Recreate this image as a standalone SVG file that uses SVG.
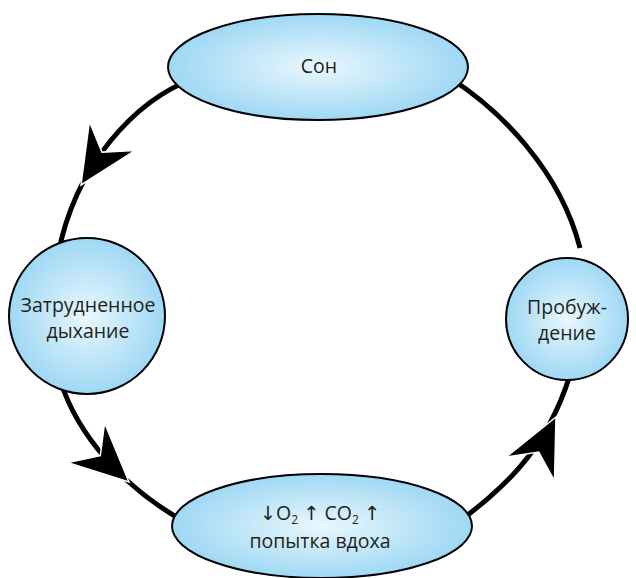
<svg xmlns="http://www.w3.org/2000/svg" width="636" height="578" viewBox="0 0 636 578">
  <defs>
    <radialGradient id="fill" cx="0.5" cy="0.5" r="0.5">
      <stop offset="0" stop-color="#e9f7fd"/>
      <stop offset="1" stop-color="#9fd8f4"/>
    </radialGradient>
    <polygon id="ah" points="0,0 -58,-27 -39,0 -58,27"/>
  </defs>
  <style>
    .node { fill: url(#fill); stroke: #000; stroke-width: 2; }
    .lbl { font-family: "Open Sans", "DejaVu Sans", sans-serif; font-size: 19.5px; fill: #231f20; text-anchor: middle; }
    .sub { font-size: 12px; }
    .edge { fill: none; stroke: #000; stroke-width: 5; }
    .head { fill: #000; stroke: #fff; stroke-width: 1.5; stroke-linejoin: miter; }
  </style>
  <rect width="636" height="578" fill="#fff"/>
  <g id="connectors">
    <path class="edge" d="M 195 78 C 135 100, 75 165, 58 255"/>
    <path class="edge" d="M 58 372 C 70 420, 110 480, 185 522"/>
    <path class="edge" d="M 455 525 C 500 490, 545 455, 570 375"/>
    <path class="edge" d="M 450 78 C 500 110, 560 170, 580 248"/>
    <use href="#ah" class="head" transform="translate(81,185) rotate(122.5)"/>
    <use href="#ah" class="head" transform="translate(129,482) rotate(42.6)"/>
    <use href="#ah" class="head" transform="translate(556,417) rotate(-63.7)"/>
  </g>
  <g id="son">
    <ellipse class="node" cx="318" cy="67" rx="150" ry="53"/>
    <text class="lbl" x="319" y="73">Сон</text>
  </g>
  <g id="zatrudnennoe">
    <circle class="node" cx="87" cy="316" r="78"/>
    <text class="lbl" x="88" y="312">Затрудненное</text>
    <text class="lbl" x="88" y="338">дыхание</text>
  </g>
  <g id="probuzhdenie">
    <circle class="node" cx="567" cy="319" r="61"/>
    <text class="lbl" x="567" y="314">Пробуж-</text>
    <text class="lbl" x="567" y="340">дение</text>
  </g>
  <g id="popytka">
    <ellipse class="node" cx="322" cy="526" rx="150" ry="52"/>
    <text class="lbl" x="320" y="520">↓O<tspan class="sub" dy="4">2</tspan><tspan dy="-4"> ↑ CO</tspan><tspan class="sub" dy="4">2</tspan><tspan dy="-4"> ↑</tspan></text>
    <text class="lbl" x="320" y="548">попытка вдоха</text>
  </g>
</svg>
